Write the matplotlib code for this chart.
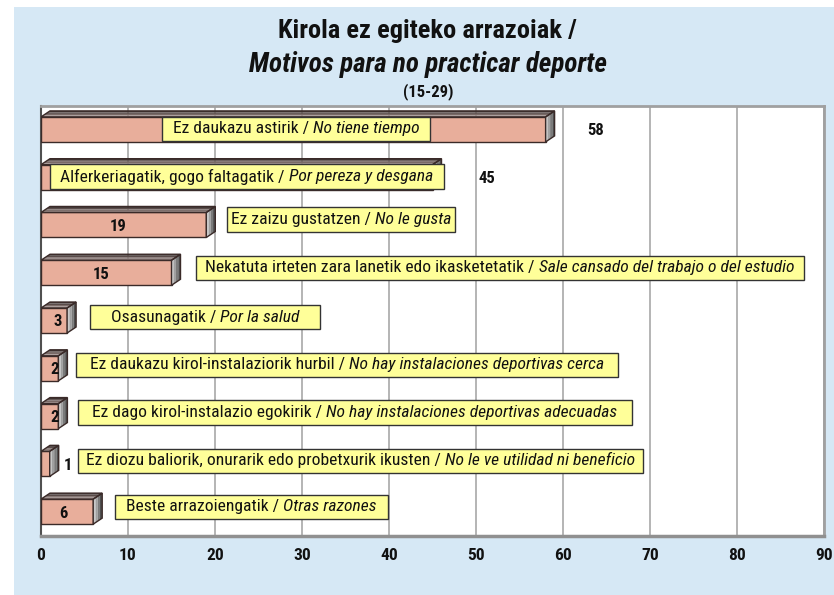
import matplotlib
matplotlib.use("Agg")
import matplotlib.pyplot as plt
from matplotlib.patches import Polygon, Rectangle
from matplotlib import font_manager
import numpy as np

# ---------------- data ----------------
basque = [
    "Ez daukazu astirik",
    "Alferkeriagatik, gogo faltagatik",
    "Ez zaizu gustatzen",
    "Nekatuta irteten zara lanetik edo ikasketetatik",
    "Osasunagatik",
    "Ez daukazu kirol-instalaziorik hurbil",
    "Ez dago kirol-instalazio egokirik",
    "Ez diozu baliorik, onurarik edo probetxurik ikusten",
    "Beste arrazoiengatik",
]
spanish = [
    "No tiene tiempo",
    "Por pereza y desgana",
    "No le gusta",
    "Sale cansado del trabajo o del estudio",
    "Por la salud",
    "No hay instalaciones deportivas cerca",
    "No hay instalaciones deportivas adecuadas",
    "No le ve utilidad ni beneficio",
    "Otras razones",
]
values = [58, 45, 19, 15, 3, 2, 2, 1, 6]
xticks = [0, 10, 20, 30, 40, 50, 60, 70, 80, 90]

# ---------------- layout ----------------
box_left = [13.9, 1.0, 21.4, 17.8, 5.6, 4.0, 4.25, 4.25, 8.5]
box_right = [44.7, 46.3, 47.6, 87.7, 32.1, 66.3, 67.9, 69.2, 39.9]
box_dy = [-0.02, -0.02, -0.12, -0.11, -0.08, -0.08, -0.08, -0.07, -0.11]
val_x = [63.7, 51.2, 8.9, 6.9, 1.95, 1.6, 1.6, 3.1, 2.6]

avail = {f.name for f in font_manager.fontManager.ttflist}
narrow = "Liberation Sans"
for cand in ["Liberation Sans Narrow", "Roboto Condensed", "Open Sans Condensed",
             "DejaVu Sans Condensed", "Noto Sans Condensed"]:
    if cand in avail:
        narrow = cand
        break
fam = [narrow, "DejaVu Sans"]
plt.rcParams["font.family"] = fam

W, H = 834, 595
fig = plt.figure(figsize=(W / 100, H / 100), dpi=100)
fig.patch.set_facecolor("white")
fig.add_artist(Rectangle((14 / W, 0), 1 - 14 / W, 1 - 7 / H, transform=fig.transFigure,
                         facecolor="#D6E8F5", edgecolor="none", zorder=-10))

ax_l, ax_r, ax_t, ax_b = 41, 824, 106, 536
ax = fig.add_axes([ax_l / W, 1 - ax_b / H, (ax_r - ax_l) / W, (ax_b - ax_t) / H])
ax.set_facecolor("white")
n = len(values)
ax.set_xlim(0, 90)
ax.set_ylim(n - 0.5, -0.5)
ax.set_xticks(xticks)
ax.set_xticklabels([str(t) for t in xticks], fontsize=12.5, fontweight="bold", color="#111111")
ax.set_yticks([])
ax.tick_params(axis="x", length=0, pad=9)
ax.grid(axis="x", color="#A8A8A8", linewidth=1.2, zorder=0)
ax.set_axisbelow(True)
for s in ["top", "right"]:
    ax.spines[s].set_color("#A0A0A0")
    ax.spines[s].set_linewidth(2)
ax.spines["bottom"].set_color("#909090")
ax.spines["bottom"].set_linewidth(2.5)
ax.spines["left"].set_color("#505050")
ax.spines["left"].set_linewidth(1.5)

# 3-D look bars
px_per_x = (ax_r - ax_l) / 90.0
px_per_y = (ax_b - ax_t) / n
ddx = 9 / px_per_x
ddy = 6 / px_per_y
bh = 25 / px_per_y
front_col = "#E8AE9B"
for i, v in enumerate(values):
    c = i - 0.01
    yt, yb = c - bh / 2, c + bh / 2
    ax.add_patch(Rectangle((0, yt), v, bh, facecolor=front_col, edgecolor="#3A2A28",
                           linewidth=1.0, zorder=3))
    ns = 4
    cols_top = ["#3E3432", "#5A4C4A", "#7A6A67", "#9A8A87"]
    for k in range(ns):
        f0, f1 = k / ns, (k + 1) / ns
        y0 = yt - ddy * (1 - f0)
        y1 = yt - ddy * (1 - f1)
        x0 = ddx * (1 - f0)
        x1 = ddx * (1 - f1)
        ax.add_patch(Polygon([(x0, y0), (v + x0, y0), (v + x1, y1), (x1, y1)],
                             closed=True, facecolor=cols_top[k], edgecolor="none", zorder=3))
    ax.add_patch(Polygon([(0, yt), (v, yt), (v + ddx, yt - ddy), (ddx, yt - ddy)], closed=True,
                         facecolor="none", edgecolor="#3A2A28", linewidth=1.0, zorder=3.5))
    cols_side = ["#C8C8C8", "#A0A0A0", "#7A7A7A", "#505050"]
    for k in range(ns):
        f0, f1 = k / ns, (k + 1) / ns
        xa, xb = v + ddx * f0, v + ddx * f1
        ax.add_patch(Polygon([(xa, yt - ddy * f0), (xb, yt - ddy * f1), (xb, yb - ddy * f1),
                              (xa, yb - ddy * f0)], closed=True, facecolor=cols_side[k],
                             edgecolor="none", zorder=3))
    ax.add_patch(Polygon([(v, yt), (v + ddx, yt - ddy), (v + ddx, yb - ddy), (v, yb)], closed=True,
                         facecolor="none", edgecolor="#3A2A28", linewidth=1.0, zorder=3.5))
    ax.text(val_x[i], c + 0.03, str(v), ha="center", va="center", fontsize=12,
            fontweight="bold", color="#111111", zorder=6)

# category label boxes
box_h = 24.5 / px_per_y
pairs = []
for i in range(n):
    c = i + box_dy[i]
    ax.add_patch(Rectangle((box_left[i], c - box_h / 2), box_right[i] - box_left[i], box_h,
                           facecolor="#FFFF99", edgecolor="#333333", linewidth=1.0, zorder=4))
    xc = (box_left[i] + box_right[i]) / 2
    t1 = ax.text(xc, c, basque[i] + " / ", ha="right", va="center", fontsize=12.6, zorder=5,
                 color="#111111")
    t2 = ax.annotate(spanish[i], xy=(1, 0.5), xycoords=t1, ha="left", va="center",
                     fontsize=12.6, fontstyle="italic", zorder=5, color="#111111")
    pairs.append((t1, t2))

fig.canvas.draw()
r = fig.canvas.get_renderer()
for i, (t1, t2) in enumerate(pairs):
    b1 = t1.get_window_extent(r)
    b2 = t2.get_window_extent(r)
    total = b2.x1 - b1.x0
    xc_px = ax.transData.transform(((box_left[i] + box_right[i]) / 2, 0))[0]
    shift = (b1.x1 - b1.x0) - total / 2
    new_x = ax.transData.inverted().transform((xc_px + shift, 0))[0]
    t1.set_x(new_x)

# titles
fig.text(0.513, 1 - 31 / H, "Kirola ez egiteko arrazoiak /", ha="center", va="center",
         fontsize=19, fontweight="bold", color="#111111")
fig.text(0.513, 1 - 64 / H, "Motivos para no practicar deporte", ha="center", va="center",
         fontsize=19.5, fontweight="bold", fontstyle="italic", color="#111111")
fig.text(0.513, 1 - 92 / H, "(15-29)", ha="center", va="center", fontsize=12,
         fontweight="bold", color="#111111")

fig.savefig("out.png", dpi=100)
